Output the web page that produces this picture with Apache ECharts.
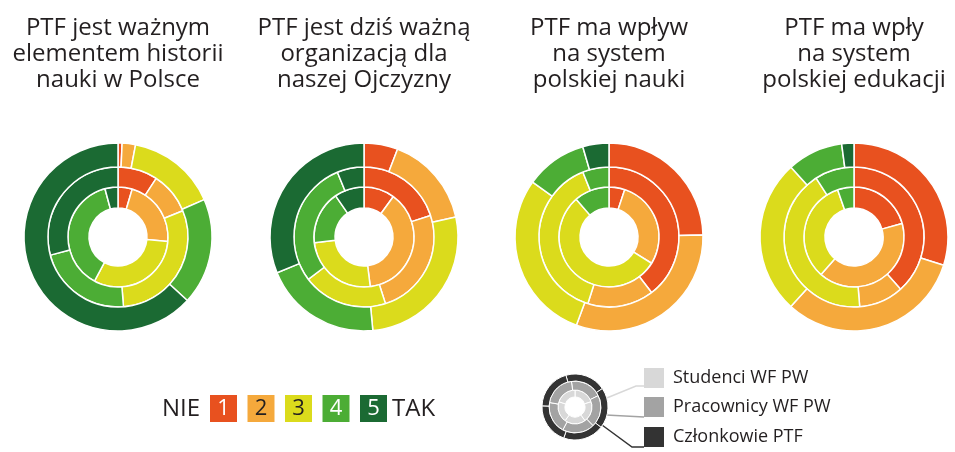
<!DOCTYPE html>
<html>
<head>
<meta charset="utf-8">
<script src="https://cdn.jsdelivr.net/npm/echarts@6/dist/echarts.min.js"></script>
<style>
html,body{margin:0;padding:0;background:#fff;}
#main{width:955px;height:452px;}
</style>
</head>
<body>
<div id="main"></div>
<script>
// dane: skala 1 (NIE) .. 5 (TAK), udział odpowiedzi w %
var categories = ['1', '2', '3', '4', '5'];
var titles = [
    'PTF jest ważnym\nelementem historii\nnauki w Polsce',
    'PTF jest dziś ważną\norganizacją dla\nnaszej Ojczyzny',
    'PTF ma wpływ\nna system\npolskiej nauki',
    'PTF ma wpły\nna system\npolskiej edukacji'
];
// pierścień wewnętrzny
var studenci = [
    [4.6, 21.8, 31.4, 38.0, 4.2],
    [10.0, 38.0, 25.2, 17.2, 9.6],
    [5.1, 28.7, 54.8, 11.4, 0],
    [20.6, 40.8, 33.2, 5.3, 0]
];
// pierścień środkowy
var pracownicy = [
    [9.2, 9.7, 29.9, 22.1, 29.2],
    [20.0, 25.0, 19.6, 29.1, 6.2],
    [39.6, 15.3, 39.0, 6.1, 0],
    [38.4, 10.3, 42.2, 9.1, 0]
];
// pierścień zewnętrzny
var czlonkowie = [
    [0.7, 2.3, 15.5, 18.3, 63.2],
    [5.8, 15.8, 26.9, 20.3, 31.2],
    [24.7, 31.0, 29.3, 10.6, 4.5],
    [29.9, 31.9, 26.6, 9.6, 2.1]
];
var groups = ['Studenci WF PW', 'Pracownicy WF PW', 'Członkowie PTF'];
var keySlices = [1, 1, 1, 1, 1];

var colors = ['#e8511f', '#f5a93c', '#dbdb1c', '#4cad35', '#1b6a33'];
var numColors = ['#fff', '#231f20', '#231f20', '#fff', '#fff'];
var greys = ['#d8d8d8', '#a3a3a3', '#333333'];
var centersX = [118, 364, 609, 854];
var centerY = 237;
var rings = [[29, 50], [50, 70], [70, 94]];
var font = '"Open Sans", "Noto Sans", sans-serif';

var chart = echarts.init(document.getElementById('main'));

function ringData(values) {
    var out = [];
    for (var i = 0; i < values.length; i++) {
        if (values[i] > 0) {
            out.push({ name: categories[i], value: values[i], itemStyle: { color: colors[i] } });
        }
    }
    return out;
}

var series = [];
var titleList = [];
for (var c = 0; c < titles.length; c++) {
    titleList.push({
        text: titles[c],
        left: centersX[c],
        top: 15,
        padding: 0,
        textAlign: 'center',
        textStyle: {
            fontFamily: font,
            fontSize: 24,
            fontWeight: 'normal',
            color: '#231f20',
            lineHeight: 26
        }
    });
    var ringValues = [studenci[c], pracownicy[c], czlonkowie[c]];
    for (var r = 0; r < 3; r++) {
        series.push({
            type: 'pie',
            name: groups[r],
            center: [centersX[c], centerY],
            radius: rings[r],
            startAngle: 90,
            clockwise: true,
            silent: true,
            animation: false,
            label: { show: false },
            labelLine: { show: false },
            itemStyle: { borderColor: '#fff', borderWidth: 1.5 },
            data: ringData(ringValues[r])
        });
    }
}

// mała legenda pierścieni
var keyRings = [[10, 17], [17, 26], [26, 33]];
for (var k = 0; k < 3; k++) {
    series.push({
        type: 'pie',
        name: groups[k],
        center: [575, 407],
        radius: keyRings[k],
        startAngle: 90 + k * 8,
        silent: true,
        animation: false,
        label: { show: false },
        labelLine: { show: false },
        itemStyle: { color: greys[k], borderColor: '#fff', borderWidth: 1 },
        data: keySlices.map(function (v) { return { value: v }; })
    });
}

var graphics = [];
// NIE 1..5 TAK
graphics.push({
    type: 'text', x: 200, y: 409,
    style: { text: 'NIE', fontFamily: font, fontSize: 24, fill: '#231f20', textAlign: 'right', textVerticalAlign: 'middle' }
});
for (var i = 0; i < categories.length; i++) {
    var x0 = 210 + i * 37.5;
    graphics.push({
        type: 'rect', shape: { x: x0, y: 395, width: 27, height: 27 },
        style: { fill: colors[i] }
    });
    graphics.push({
        type: 'text', x: x0 + 13.5, y: 409,
        style: { text: categories[i], fontFamily: font, fontSize: 22, fill: numColors[i], textAlign: 'center', textVerticalAlign: 'middle' }
    });
}
graphics.push({
    type: 'text', x: 392, y: 409,
    style: { text: 'TAK', fontFamily: font, fontSize: 24, fill: '#231f20', textAlign: 'left', textVerticalAlign: 'middle' }
});

// opisy pierścieni
var keyY = [378, 407, 437];
var connectors = [
    [[644, 386], [636, 386], [597, 402]],
    [[644, 417], [606, 415]],
    [[644, 447], [632, 447], [602, 425]]
];
for (var g = 0; g < 3; g++) {
    graphics.push({
        type: 'polyline', shape: { points: connectors[g] },
        style: { stroke: greys[g], lineWidth: 1.5, fill: null }
    });
    graphics.push({
        type: 'rect', shape: { x: 644, y: keyY[g] - 10, width: 20, height: 20 },
        style: { fill: greys[g] }
    });
    graphics.push({
        type: 'text', x: 673, y: keyY[g],
        style: { text: groups[g], fontFamily: font, fontSize: 18, fill: '#231f20', textAlign: 'left', textVerticalAlign: 'middle' }
    });
}

chart.setOption({
    backgroundColor: '#fff',
    animation: false,
    title: titleList,
    tooltip: { show: false },
    series: series,
    graphic: graphics
});
</script>
</body>
</html>
